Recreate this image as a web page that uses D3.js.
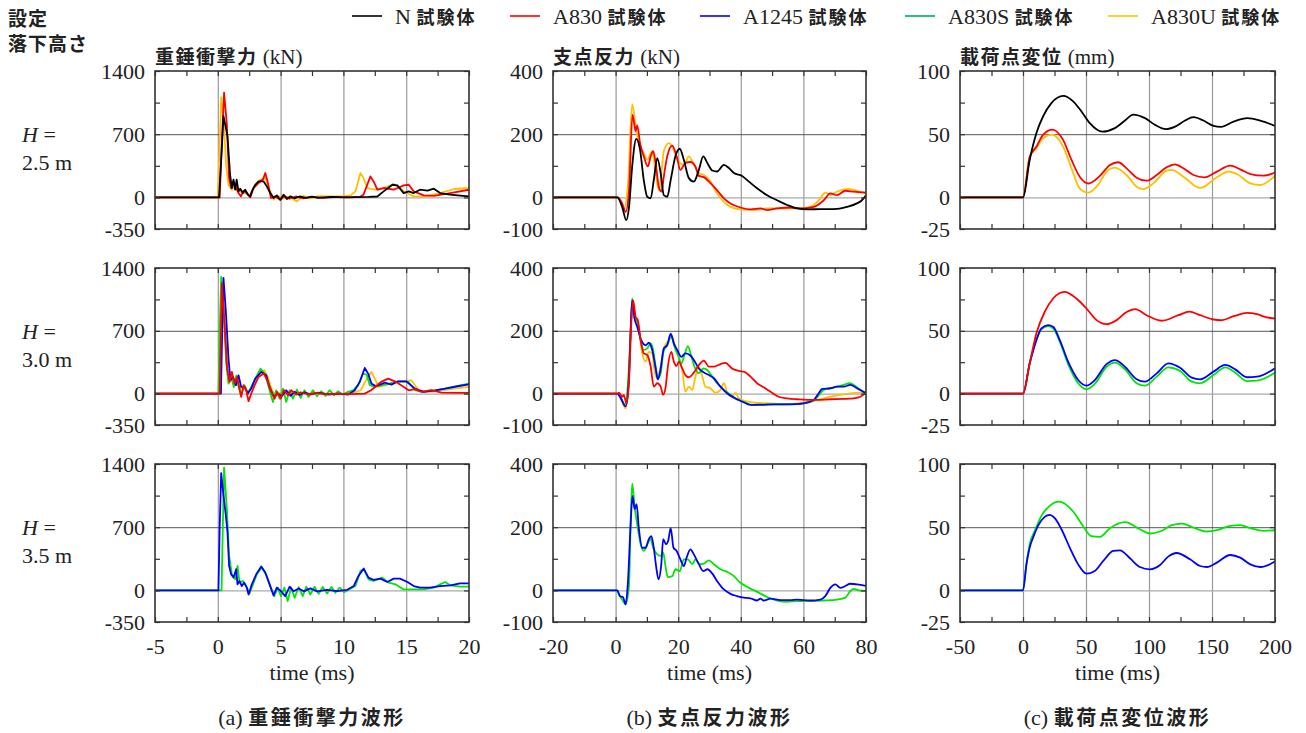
<!DOCTYPE html>
<html>
<head>
<meta charset="utf-8">
<script src="https://cdn.jsdelivr.net/npm/d3@7"></script>
<style>
  body { margin: 0; background: #fff; }
  svg { display: block; }
</style>
</head>
<body>
<div id="chart"></div>
<script>
// chart data

var seriesKeys = ["N", "A830", "A1245", "A830S", "A830U"];
var seriesColors = {N: "#000000", A830: "#ff0000", A1245: "#0000ff", A830S: "#00e600", A830U: "#ffc000"};
var legendColors = {N: "#000000", A830: "#ff0000", A1245: "#0000ff", A830S: "#00b050", A830U: "#ffc000"};
var drawOrder = ["A830U", "A830S", "A1245", "A830", "N"];

var dropHeights = ["2.5 m", "3.0 m", "3.5 m"];
var colTitlesJa = ["重錘衝撃力", "支点反力", "載荷点変位"];
var colTitlesUnit = ["(kN)", "(kN)", "(mm)"];
var captionTags = ["(a)", "(b)", "(c)"];
var captionTexts = ["重錘衝撃力波形", "支点反力波形", "載荷点変位波形"];

var xDomains = [[-5, 20], [-20, 80], [-50, 200]];
var xTickLabels = [[-5, 0, 5, 10, 15, 20], [-20, 0, 20, 40, 60, 80], [-50, 0, 50, 100, 150, 200]];
var yDomains = [[-350, 1400], [-100, 400], [-25, 100]];
var yTickLabels = [[-350, 0, 700, 1400], [-100, 0, 200, 400], [-25, 0, 50, 100]];
var yMidGrid = [700, 200, 50];

// (a) impact force, kN
var impactN_25 = [[-5,0],[0.1,0],[0.3,500],[0.45,900],[0.6,800],[0.77,677],[0.98,250],[1.12,104],[1.25,196],[1.38,85],[1.5,196],[1.65,67],[1.78,96],[2.0,48],[2.18,85],[2.4,30],[2.58,11],[2.71,67],[2.98,140],[3.24,178],[3.64,178],[3.9,122],[4.18,48],[4.44,-7],[4.7,22],[4.97,-26],[5.24,30],[5.5,-18],[5.77,11],[6.1,-10],[6.5,10],[7,-5],[7.5,8],[8,-5],[9,5],[10,0],[11,3],[12,5],[12.7,10],[13.2,67],[13.9,140],[14.3,133],[14.8,48],[15.2,67],[15.6,48],[16.1,85],[16.7,74],[17.2,96],[17.7,48],[18.5,30],[19.3,20],[20,11]];
var impactA830_25 = [[-5,0],[0.15,0],[0.35,700],[0.5,1160],[0.6,1000],[0.72,807],[0.9,215],[1.06,104],[1.25,178],[1.46,104],[1.65,48],[1.84,11],[2.05,74],[2.31,48],[2.58,0],[2.85,104],[3.24,159],[3.6,200],[3.78,270],[3.96,178],[4.23,-7],[4.57,11],[4.97,-26],[5.3,15],[5.7,-15],[6.2,10],[6.8,-10],[7.5,5],[8.5,-5],[9.5,5],[10.5,0],[11.3,5],[11.6,30],[12.15,233],[12.47,159],[12.7,85],[13.2,104],[14.0,85],[14.8,133],[15.2,140],[15.6,67],[16.4,22],[17.2,18],[18.5,48],[20,85]];
var impactA830U_25 = [[-5,0],[0.0,0],[0.15,600],[0.27,1110],[0.45,880],[0.66,363],[0.85,141],[1.12,85],[1.4,150],[1.65,70],[1.9,60],[2.3,40],[2.6,20],[2.85,110],[3.38,196],[3.78,215],[4.18,67],[4.44,-26],[4.75,20],[5.2,-15],[5.7,10],[6.3,-44],[6.8,18],[7.4,-10],[8,15],[9,10],[10,12],[10.56,22],[10.96,67],[11.36,270],[11.6,215],[11.9,104],[12.5,85],[13.2,104],[14.0,148],[14.8,67],[15.6,11],[16.5,11],[17.7,48],[18.8,93],[20,104]];

var impactA830_30 = [[-5,0],[0.15,0],[0.25,700],[0.32,1230],[0.42,1000],[0.53,797],[0.74,278],[0.93,130],[1.12,241],[1.33,111],[1.54,186],[1.73,56],[1.86,-37],[2.05,93],[2.26,37],[2.45,-85],[2.66,0],[2.93,93],[3.24,186],[3.67,223],[3.99,130],[4.26,19],[4.52,-56],[4.73,19],[5.0,-56],[5.27,37],[5.59,-19],[5.85,37],[6.25,-11],[6.6,15],[7.2,-10],[7.8,7],[8.5,-5],[9.5,0],[10.5,-5],[11.7,0],[12.2,37],[13.0,130],[13.56,167],[14.1,137],[14.6,93],[15.2,37],[15.7,50],[16.2,20],[17.0,40],[17.8,11],[19,7],[20,7]];
var impactA830S_30 = [[-5,0],[0.05,0],[0.15,700],[0.27,1300],[0.38,1100],[0.48,909],[0.66,352],[0.85,111],[1.06,186],[1.28,74],[1.49,204],[1.68,56],[1.86,-19],[2.13,93],[2.39,0],[2.66,74],[3.06,186],[3.4,278],[3.78,211],[4.12,37],[4.39,-93],[4.65,37],[4.92,-56],[5.19,56],[5.45,-93],[5.72,37],[5.98,-56],[6.3,44],[6.6,-48],[6.9,37],[7.23,-37],[7.58,37],[7.9,-30],[8.24,26],[8.56,-26],[8.9,37],[9.26,-19],[9.57,26],[9.95,-10],[10.37,19],[10.77,37],[11.17,93],[11.57,223],[11.85,210],[12.1,93],[12.5,74],[13.3,100],[14.4,137],[15.16,130],[15.7,37],[16.5,19],[17.3,37],[18.1,56],[19.1,85],[20,111]];
var impactA1245_30 = [[-5,0],[0.25,0],[0.35,700],[0.45,1290],[0.55,1100],[0.66,872],[0.85,390],[1.01,148],[1.22,186],[1.44,93],[1.65,204],[1.86,74],[2.13,74],[2.39,0],[2.66,56],[2.98,167],[3.46,241],[3.86,204],[4.12,74],[4.47,-37],[4.79,0],[5.1,-30],[5.45,37],[5.8,-25],[6.1,20],[6.5,-15],[6.9,15],[7.4,-10],[8,10],[8.8,-10],[9.6,0],[10.4,-10],[10.9,37],[11.3,130],[11.7,286],[11.97,223],[12.23,111],[12.6,82],[13.3,122],[13.83,100],[14.36,137],[15.0,137],[15.7,56],[16.36,19],[17.3,37],[18.1,56],[19.1,82],[20,104]];
var impactA830U_30 = [[-5,0],[0.2,0],[0.3,700],[0.38,1220],[0.5,950],[0.7,400],[0.9,140],[1.2,170],[1.5,110],[1.8,60],[2.1,80],[2.4,20],[2.7,60],[3.1,180],[3.5,250],[3.7,260],[4.0,180],[4.3,40],[4.6,-20],[5.0,10],[5.5,-10],[6,10],[7,0],[8,5],[9,-5],[10,0],[10.8,10],[11.4,40],[11.8,150],[12.23,241],[12.5,170],[12.8,75],[13.5,100],[14.3,130],[14.9,140],[15.4,148],[16.0,37],[17.0,20],[18.5,50],[20,75]];

var impactA830S_35 = [[-5,0],[0.3,0],[0.4,700],[0.5,1360],[0.6,1150],[0.72,906],[0.9,384],[1.12,179],[1.38,123],[1.57,272],[1.73,86],[2.0,104],[2.26,48],[2.53,-34],[2.85,86],[3.11,179],[3.51,254],[3.9,160],[4.23,30],[4.5,-63],[4.77,30],[5.03,-63],[5.3,30],[5.56,-119],[5.83,30],[6.12,-82],[6.44,37],[6.76,-63],[7.05,41],[7.37,-45],[7.7,41],[8.03,-37],[8.35,37],[8.7,-34],[9.05,37],[9.36,-26],[9.7,30],[10.05,-19],[10.56,19],[10.96,48],[11.36,216],[11.62,235],[12.0,123],[12.4,104],[13.1,142],[13.6,86],[14.15,67],[14.8,11],[15.6,11],[16.4,11],[17.2,30],[17.7,67],[18.1,93],[18.5,56],[19.3,41],[20,41]];
var impactA1245_35 = [[-5,0],[0.05,0],[0.15,700],[0.27,1300],[0.45,1056],[0.64,832],[0.77,645],[0.9,272],[1.06,179],[1.25,142],[1.46,235],[1.57,67],[1.73,104],[1.91,48],[2.1,86],[2.31,30],[2.45,-45],[2.71,67],[3.06,179],[3.46,265],[3.78,198],[4.12,67],[4.44,-56],[4.7,30],[4.97,0],[5.37,-63],[5.72,41],[6.04,-10],[6.44,22],[6.84,-10],[7.37,22],[7.9,-10],[8.7,7],[9.5,-7],[10.3,7],[10.82,48],[11.2,160],[11.62,242],[12.0,142],[12.4,116],[12.95,130],[13.5,93],[14.0,130],[14.5,130],[15.1,93],[15.6,48],[16.1,30],[16.9,30],[17.7,48],[18.5,56],[19.3,78],[20,78]];

// (b) support reaction, kN
var reactN_25 = [[-20,0],[0.5,0],[2.1,-30],[3.4,-72],[4.3,-30],[5.3,98],[6.6,185],[7.8,151],[9.0,55],[10.1,2],[11.2,-3],[12.2,55],[13.3,124],[14.4,77],[15.4,7],[16.5,2],[17.6,55],[19.1,130],[20.5,154],[21.8,119],[23.4,61],[25,50],[26.6,87],[28.0,130],[29.3,109],[30.9,85],[32.4,82],[34.6,103],[36.2,93],[37.8,77],[40.4,68],[42.6,50],[45.2,29],[48.4,7],[51.6,-9],[54.8,-24],[58,-35],[61.2,-38],[65.4,-37],[69.7,-37],[73.9,-30],[77.1,-19],[78.7,-9],[80,7]];
var reactA830_25 = [[-20,0],[0.7,0],[2.1,-19],[3.2,-46],[4.3,23],[5.4,262],[6.4,210],[6.9,228],[7.8,172],[9.0,130],[10.3,98],[11.2,130],[12.0,146],[12.8,109],[13.8,34],[14.7,18],[15.4,66],[16.5,130],[18.1,164],[19.5,130],[20.7,87],[22.3,109],[23.9,112],[25.5,98],[26.6,68],[28.2,64],[30.3,45],[32.4,23],[34.6,-3],[36.7,-19],[39.9,-32],[43.1,-38],[46.3,-35],[48.4,-40],[51.6,-35],[55.9,-32],[59.0,-35],[63.3,-30],[66.5,-9],[68.6,13],[70.7,7],[73.4,21],[76.1,18],[80,15]];
var reactA830U_25 = [[-20,0],[0.7,0],[2.7,-35],[4.0,50],[5.3,295],[6.4,226],[7.4,172],[9.0,140],[10.1,119],[11.7,146],[12.8,77],[13.8,23],[14.4,55],[15.4,146],[17.0,172],[18.6,151],[19.7,119],[21.8,103],[23.4,130],[25.0,103],[26.6,77],[28.2,71],[30.3,50],[32.4,13],[34.6,-14],[36.7,-30],[39.9,-38],[44.1,-40],[48.4,-35],[52.7,-35],[58,-35],[62.2,-30],[64.9,-9],[67.0,15],[68.6,8],[70.7,18],[73.9,27],[77.1,21],[80,13]];

var reactA830_30 = [[-20,0],[0.5,0],[1.1,3],[2.1,-10],[2.6,-5],[3.5,-31],[4.3,43],[5.0,223],[5.6,297],[6.4,244],[7.1,234],[8.0,170],[9.0,128],[10.1,123],[11.2,86],[12.2,22],[13.3,33],[14.4,22],[15.2,-4],[16.0,22],[16.7,86],[17.8,133],[18.6,102],[19.5,88],[20.2,102],[21.3,80],[22.3,59],[23.4,52],[25,67],[26.6,91],[28.2,105],[29.8,86],[31.4,86],[33.5,94],[35.1,98],[37.2,80],[39.4,72],[41,70],[43.1,54],[45.2,33],[47.3,20],[49.5,6],[52.1,-10],[54.8,-15],[58,-18],[61.2,-20],[64.4,-20],[68.6,-18],[72.9,-17],[76.1,-15],[78.2,-10],[80,3]];
var reactA830S_30 = [[-20,0],[0.5,0],[1.5,-10],[3.0,-34],[4.0,40],[4.8,192],[5.3,303],[6.1,239],[6.9,230],[8.0,170],[9.0,139],[10.1,144],[11.2,160],[11.9,144],[12.8,86],[13.5,49],[14.4,65],[15.2,128],[16.0,149],[16.7,160],[17.8,186],[18.8,149],[19.9,123],[21.0,96],[22.0,123],[23.1,151],[24.1,123],[25.2,86],[26.6,65],[28.0,80],[29.3,75],[30.9,54],[32.4,33],[34.6,12],[36.7,-4],[38.8,-18],[41.5,-29],[43.6,-36],[46.3,-34],[50,-34],[53.7,-34],[58,-33],[60.1,-31],[63.3,-23],[65.4,1],[66.5,12],[68.6,17],[70.7,22],[72.9,28],[74.8,33],[76.6,24],[78.2,12],[80,3]];
var reactA1245_30 = [[-20,0],[0.5,0],[1.5,-12],[3.2,-41],[4.2,40],[4.8,200],[5.3,297],[6.1,237],[6.9,213],[8.2,170],[9.6,154],[10.6,162],[11.7,139],[12.8,80],[13.5,45],[14.4,80],[15.4,144],[16.5,154],[17.6,191],[18.6,160],[19.7,139],[21.0,117],[22.3,128],[23.7,123],[25.0,107],[26.6,80],[28.2,67],[29.8,59],[31.4,49],[33.5,22],[35.6,1],[37.8,-13],[40.4,-25],[43.1,-36],[46.3,-36],[50.5,-34],[55.8,-34],[60.1,-31],[63.3,-20],[64.9,1],[66.0,15],[68.6,17],[70.7,22],[72.9,22],[75.0,28],[77.1,17],[80,1]];
var reactA830U_30 = [[-20,0],[0.5,0],[1.5,-12],[3.2,-47],[4.2,40],[4.8,200],[5.3,290],[6.4,243],[7.4,206],[8.5,128],[9.6,102],[10.6,133],[11.7,128],[12.4,75],[13.3,49],[14.4,86],[15.4,144],[17.0,170],[18.1,181],[19.1,149],[20.2,117],[21.3,75],[22.3,6],[23.4,22],[24.5,12],[25.5,54],[26.6,86],[27.7,54],[28.7,22],[30.3,17],[31.9,3],[33.5,12],[34.6,33],[35.6,6],[37.2,-10],[38.3,3],[39.4,-15],[42.0,-25],[45.2,-30],[49.5,-31],[53.7,-33],[58,-31],[62.2,-25],[65.4,-18],[68.6,-10],[71.8,-4],[75,1],[78.2,3],[80,3]];

var reactA830S_35 = [[-20,0],[0.5,0],[1.1,-13],[2.1,-29],[3.2,-44],[4.3,19],[4.8,209],[5.3,339],[6.1,262],[6.9,209],[8.0,146],[9.0,125],[10.1,146],[11.2,162],[12.0,135],[13.3,114],[14.4,109],[15.2,120],[16.0,72],[16.7,42],[18.1,45],[19.1,67],[20.5,61],[21.8,98],[23.1,98],[24.5,83],[25.5,98],[26.9,83],[28.2,85],[29.8,95],[31.4,83],[33.5,67],[35.6,59],[37.8,45],[39.9,24],[42.6,8],[45.7,-7],[48.4,-21],[51.6,-32],[54.8,-36],[58.0,-34],[62.2,-34],[66.5,-32],[70.7,-29],[73.4,-23],[75.0,-2],[76.1,5],[77.7,0],[80,-2]];
var reactA1245_35 = [[-20,0],[0.5,0],[1.4,-18],[2.4,-22],[3.2,-44],[3.9,20],[4.8,209],[5.4,299],[6.1,257],[6.7,273],[7.4,199],[8.5,135],[9.6,135],[10.6,162],[11.4,172],[12.2,135],[13.0,72],[13.7,35],[14.6,83],[15.2,162],[16.1,146],[16.8,157],[17.6,197],[18.5,135],[19.5,125],[20.7,98],[21.8,77],[22.7,104],[23.9,130],[25.0,114],[26.6,83],[28.0,61],[29.3,67],[30.9,53],[32.4,30],[34.6,3],[36.7,-11],[38.8,-18],[41.0,-23],[43.1,-25],[45.2,-32],[46.3,-26],[47.3,-32],[49.5,-26],[52.7,-31],[55.8,-31],[58,-29],[62.2,-32],[65.4,-29],[67.0,-18],[68.6,8],[70.2,19],[71.8,8],[73.4,14],[75,21],[77.1,19],[80,14]];

// (c) loading point displacement, mm
var dispN_25 = [[-50,0],[0,0],[5.3,29.6],[10.6,50.8],[15.9,64],[22.5,74.6],[32,80.3],[39.8,76],[46.4,68],[53,58.7],[63,52],[72.9,54.8],[80.9,60.8],[87.5,65.5],[96.8,62.7],[104.8,57.4],[113.5,54],[120.7,56],[128.6,60.8],[135.3,63.5],[143.2,60.8],[151.2,56.6],[157,55.8],[167.1,60],[178,62.7],[188.3,60.8],[200,56.6]];
var dispA830_25 = [[-50,0],[0,0],[5.3,32],[10.6,40],[15.9,49.5],[23.5,53.6],[31.8,45.5],[38.5,29.6],[45,16.4],[52,11],[61,17],[69,25.7],[75.6,27.8],[82.2,23],[90.2,15.6],[98.1,13.2],[106.1,17.7],[114,23.8],[120.7,26.2],[127.3,23],[135.3,17.7],[144,15.8],[153.8,20.4],[164.5,25.1],[172.4,22.2],[180.4,18.5],[191,17.2],[200,19.6]];
var dispA830U_25 = [[-50,0],[0,0],[5.3,32],[10.6,38.9],[15.9,46.8],[23,49.6],[31.8,40.2],[38.5,23],[45,7.1],[51.7,3.7],[58.4,8.5],[67.6,21.7],[73,23.6],[82.2,17.7],[90.2,8.5],[95.5,6.6],[103.5,11.1],[114,21.2],[118,21.8],[127.3,16.4],[140.5,7.5],[153.8,15.9],[163,20.5],[169.8,18.5],[180.4,11.1],[188.3,9.8],[200,17.2]];

var dispA830_30 = [[-50,0],[0,0],[5.3,24],[10.6,47.9],[17.2,65],[23.9,75.7],[33,81],[42.4,75.7],[50.4,67.7],[58.4,58.5],[66.3,55.3],[74.3,58.5],[82.2,65],[89,67.3],[98.1,62.4],[110,58],[123.3,62.4],[132,65.2],[140.6,62.4],[151.2,59],[157,58.4],[167.1,61.6],[178,64.3],[185.7,63.2],[193.6,60.6],[200,59.8]];
var dispA1245_30 = [[-50,0],[0,0],[5.3,24],[10.6,42.6],[14.6,51.9],[19.9,54.5],[23.9,53.2],[29.2,42.6],[35.8,25.4],[43.8,10.8],[50.4,6.3],[57.0,10.8],[66.3,23.5],[73,26.7],[80.9,21.4],[90.2,11.4],[96.8,9.5],[106.1,16.1],[115.4,24.1],[124.7,20.6],[134,12.7],[140.6,11.4],[151.2,17.5],[160.5,22.8],[168.4,19.3],[177.7,13],[185.7,13.5],[200,20.1]];
var dispA830S_30 = [[-50,0],[0,0],[5.3,24],[10.6,42.6],[14.6,51.1],[19.9,53.7],[23.9,51.9],[29.2,41.3],[35.8,23.5],[43.8,8.2],[50.4,3.4],[57,7.7],[66.3,21.4],[73,24.6],[80.9,19.3],[90.2,8.2],[96.8,6.3],[106.1,13.5],[115.4,20.9],[124.7,18],[134,9.5],[140.6,8.2],[151.2,14.8],[160.5,20.9],[168.4,16.7],[177.7,10],[185.7,10.3],[200,16.7]];

var dispA830S_35 = [[-50,0],[0,0],[2.7,20.6],[5.3,36.5],[9.3,47.1],[14.6,59],[21.2,66.9],[28.5,70.2],[39.8,62.4],[47.7,50.8],[54.4,42.9],[61,42.3],[69,49.2],[80.9,54],[92.8,48.4],[100.8,45],[108.8,46.6],[118,51.6],[126,52.9],[135.3,49.7],[145.9,46.6],[153.8,47.6],[164.5,51.1],[172.4,51.6],[180.4,49.2],[191,47.1],[200,47.6]];
var dispA1245_35 = [[-50,0],[0,0],[2.7,20.6],[5.3,33.9],[8,41.8],[11.9,51.1],[17.2,58.2],[21.2,59.8],[25.2,57.1],[30.5,48.4],[37.1,33.9],[43.8,20.6],[50.4,13.2],[57,15.3],[63.7,23.3],[71.6,31.2],[76.9,31.7],[84.9,25.4],[92.8,18.5],[100.8,16.7],[108.8,20.1],[115,26.5],[122,29.6],[132.6,24.6],[140.6,19.3],[145.9,18.5],[153.8,22],[164.5,28],[172.4,25.9],[180.4,20.6],[188.3,18.5],[200,22.8]];

// panel table: [row][col] -> series present
var panelSeries = [
  [{N: impactN_25, A830: impactA830_25, A830U: impactA830U_25},
   {N: reactN_25, A830: reactA830_25, A830U: reactA830U_25},
   {N: dispN_25, A830: dispA830_25, A830U: dispA830U_25}],
  [{A830: impactA830_30, A830S: impactA830S_30, A1245: impactA1245_30, A830U: impactA830U_30},
   {A830: reactA830_30, A830S: reactA830S_30, A1245: reactA1245_30, A830U: reactA830U_30},
   {A830: dispA830_30, A830S: dispA830S_30, A1245: dispA1245_30}],
  [{A830S: impactA830S_35, A1245: impactA1245_35},
   {A830S: reactA830S_35, A1245: reactA1245_35},
   {A830S: dispA830S_35, A1245: dispA1245_35}]
];

// layout
var W = 1306, H = 733;
var colX = [[155, 469], [553, 866], [960, 1275]];
var rowY = [[71, 229], [268, 425], [464, 622]];
var ink = "#222";
var SERIF = "Liberation Serif";
var JA = "Noto Sans CJK JP";

var svg = d3.select("#chart").append("svg")
    .attr("width", W)
    .attr("height", H);

var fmt = function(d){ return String(d); };  // plain hyphen for negatives

function serifText(sel, size) {
  return sel.attr("font-family", SERIF).attr("font-size", size).attr("fill", ink);
}
function jaText(sel, size, spacing) {
  return sel.attr("font-family", JA).attr("font-weight", "bold")
    .attr("font-size", size).attr("letter-spacing", spacing).attr("fill", ink);
}

// legend
var legendX = [352, 510, 700, 905, 1108];
var legend = svg.append("g");
seriesKeys.forEach(function(k, i){
  var g = legend.append("g").attr("transform", "translate(" + legendX[i] + ",17)");
  g.append("line").attr("x1", 0).attr("x2", 30).attr("y1", -1).attr("y2", -1)
    .attr("stroke", legendColors[k]).attr("stroke-width", 1.6);
  var t = g.append("text").attr("x", 43).attr("y", 7);
  serifText(t.append("tspan"), 22).text(k + " ");
  jaText(t.append("tspan"), 18, 2).text("試験体");
});

// top-left label
jaText(svg.append("text"), 19, 1).attr("x", 8).attr("y", 26).text("設定");
jaText(svg.append("text"), 19, 1).attr("x", 8).attr("y", 51).text("落下高さ");

// row labels
dropHeights.forEach(function(h, r){
  var cy = (rowY[r][0] + rowY[r][1]) / 2;
  var t = serifText(svg.append("text"), 22).attr("x", 22).attr("y", cy - 8);
  t.append("tspan").attr("font-style", "italic").text("H");
  t.append("tspan").text(" =");
  serifText(svg.append("text"), 22).attr("x", 22).attr("y", cy + 20).text(h);
});

var defs = svg.append("defs");

for (var c = 0; c < 3; c++) {
  var x0 = colX[c][0], x1 = colX[c][1];
  var x = d3.scaleLinear().domain(xDomains[c]).range([x0, x1]);
  var xStep = xTickLabels[c][1] - xTickLabels[c][0];
  var xAll = d3.range(xDomains[c][0], xDomains[c][1] + xStep / 4, xStep / 2);
  var xInner = xTickLabels[c].slice(1, -1);

  // column title
  var tt = svg.append("text").attr("x", x0).attr("y", 64);
  jaText(tt.append("tspan"), 19, 1.5).text(colTitlesJa[c]);
  serifText(tt.append("tspan"), 21).text(" " + colTitlesUnit[c]);

  // caption
  var cap = svg.append("text").attr("x", (x0 + x1) / 2).attr("y", 725)
    .attr("text-anchor", "middle");
  serifText(cap.append("tspan"), 22).text(captionTags[c] + " ");
  jaText(cap.append("tspan"), 20, 2.5).text(captionTexts[c]);

  for (var r = 0; r < 3; r++) {
    var y0 = rowY[r][0], y1 = rowY[r][1];
    var y = d3.scaleLinear().domain(yDomains[c]).range([y1, y0]);
    var yStep = yTickLabels[c][2] - yTickLabels[c][1];
    var yAll = d3.range(yDomains[c][0], yDomains[c][1] + yStep / 4, yStep / 2);
    var g = svg.append("g");

    // grid
    g.append("g").attr("transform", "translate(0," + y1 + ")")
      .call(d3.axisBottom(x).tickValues(xInner).tickSize(-(y1 - y0)).tickFormat(""))
      .call(function(s){ s.select(".domain").remove();
        s.selectAll("line").attr("stroke", "#999").attr("stroke-width", 1.2); });
    g.append("g").attr("transform", "translate(" + x0 + ",0)")
      .call(d3.axisLeft(y).tickValues([0]).tickSize(-(x1 - x0)).tickFormat(""))
      .call(function(s){ s.select(".domain").remove();
        s.selectAll("line").attr("stroke", "#aaa").attr("stroke-width", 1.4); });
    g.append("g").attr("transform", "translate(" + x0 + ",0)")
      .call(d3.axisLeft(y).tickValues([yMidGrid[c]]).tickSize(-(x1 - x0)).tickFormat(""))
      .call(function(s){ s.select(".domain").remove();
        s.selectAll("line").attr("stroke", "#444").attr("stroke-width", 0.9); });

    // curves
    var clipId = "clip" + r + c;
    defs.append("clipPath").attr("id", clipId).append("rect")
      .attr("x", x0).attr("y", y0).attr("width", x1 - x0).attr("height", y1 - y0);
    var line = d3.line()
      .x(function(d){ return x(d[0]); })
      .y(function(d){ return y(d[1]); })
      .curve(c === 0 ? d3.curveLinear : d3.curveMonotoneX);
    var lines = g.append("g").attr("clip-path", "url(#" + clipId + ")");
    drawOrder.forEach(function(k){
      var data = panelSeries[r][c][k];
      if (!data) return;
      lines.append("path").datum(data)
        .attr("d", line)
        .attr("fill", "none")
        .attr("stroke", seriesColors[k])
        .attr("stroke-width", 1.8)
        .attr("stroke-linejoin", "round");
    });

    // inward ticks on all four sides
    var tickStyle = function(s){ s.select(".domain").remove();
      s.selectAll("line").attr("stroke", "#333").attr("stroke-width", 1.2); };
    g.append("g").attr("transform", "translate(0," + y1 + ")")
      .call(d3.axisBottom(x).tickValues(xAll).tickSize(-5).tickFormat("")).call(tickStyle);
    g.append("g").attr("transform", "translate(0," + y0 + ")")
      .call(d3.axisTop(x).tickValues(xAll).tickSize(-5).tickFormat("")).call(tickStyle);
    g.append("g").attr("transform", "translate(" + x0 + ",0)")
      .call(d3.axisLeft(y).tickValues(yAll).tickSize(-5).tickFormat("")).call(tickStyle);
    g.append("g").attr("transform", "translate(" + x1 + ",0)")
      .call(d3.axisRight(y).tickValues(yAll).tickSize(-5).tickFormat("")).call(tickStyle);

    // frame
    g.append("rect").attr("x", x0).attr("y", y0)
      .attr("width", x1 - x0).attr("height", y1 - y0)
      .attr("fill", "none").attr("stroke", "#333").attr("stroke-width", 1.6);

    // y labels
    g.append("g").attr("transform", "translate(" + (x0 - 10) + ",0)")
      .call(d3.axisLeft(y).tickValues(yTickLabels[c]).tickSize(0).tickPadding(0).tickFormat(fmt))
      .call(function(s){ s.select(".domain").remove();
        s.attr("font-family", SERIF).attr("font-size", 22);
        s.selectAll("text").attr("font-family", SERIF).attr("font-size", 22).attr("fill", ink); });

    // x labels on bottom row
    if (r === 2) {
      g.append("g").attr("transform", "translate(0," + (y1 + 16) + ")")
        .call(d3.axisBottom(x).tickValues(xTickLabels[c]).tickSize(0).tickPadding(0).tickFormat(fmt))
        .call(function(s){ s.select(".domain").remove();
          s.attr("font-family", SERIF).attr("font-size", 22);
          s.selectAll("text").attr("font-family", SERIF).attr("font-size", 22).attr("fill", ink); });
      serifText(svg.append("text"), 22).attr("x", (x0 + x1) / 2).attr("y", 680)
        .attr("text-anchor", "middle").text("time (ms)");
    }
  }
}
</script>
</body>
</html>
